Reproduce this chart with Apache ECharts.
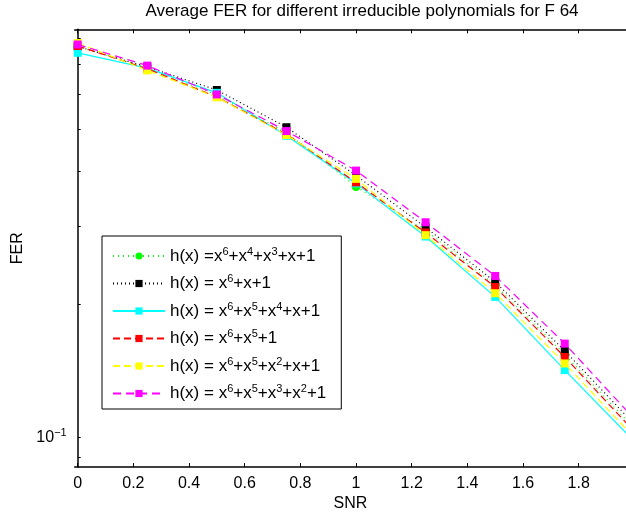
<!DOCTYPE html>
<html>
<head>
<meta charset="utf-8">
<script src="https://cdn.jsdelivr.net/npm/echarts@6/dist/echarts.min.js"></script>
<style>
html,body{margin:0;padding:0;background:#fff;}
#main{width:626px;height:517px;}
</style>
</head>
<body>
<div id="main"></div>
<script>
// SNR points
var snr = [0, 0.25, 0.5, 0.75, 1, 1.25, 1.5, 1.75, 2];
// FER per polynomial
var ferA = [0.768, 0.688, 0.596, 0.490, 0.370, 0.294, 0.221, 0.154, 0.1046];
var ferB = [0.768, 0.690, 0.612, 0.504, 0.392, 0.299, 0.225, 0.157, 0.107];
var ferC = [0.743, 0.686, 0.603, 0.482, 0.376, 0.285, 0.208, 0.142, 0.0978];
var ferD = [0.770, 0.684, 0.590, 0.486, 0.378, 0.291, 0.219, 0.152, 0.103];
var ferE = [0.782, 0.678, 0.589, 0.484, 0.385, 0.287, 0.212, 0.147, 0.0998];
var ferF = [0.776, 0.695, 0.598, 0.494, 0.402, 0.307, 0.232, 0.163, 0.110];
var names = [
    'h(x) =x^6+x^4+x^3+x+1',
    'h(x) = x^6+x+1',
    'h(x) = x^6+x^5+x^4+x+1',
    'h(x) = x^6+x^5+1',
    'h(x) = x^6+x^5+x^2+x+1',
    'h(x) = x^6+x^5+x^3+x^2+1'
];
var xTicks = [0, 0.2, 0.4, 0.6, 0.8, 1, 1.2, 1.4, 1.6, 1.8];
var yTicks = [0.09, 0.1, 0.2, 0.3, 0.4, 0.5, 0.6, 0.7, 0.8];
var yLabels = [0.1];

function pairs(arr) {
    var out = [];
    for (var i = 0; i < arr.length; i++) {
        out.push([snr[i], arr[i]]);
    }
    return out;
}
// x^6 -> rich superscript
function supText(name) {
    return '{n|' + name.replace(/\^(\d)/g, '}{s|$1}{n|') + '}';
}
function makeSeries(i, data, color, dash, symbol, size) {
    return {
        name: names[i],
        type: 'line',
        data: pairs(data),
        symbol: symbol,
        symbolSize: size,
        showAllSymbol: true,
        clip: true,
        itemStyle: {color: color, borderWidth: 0},
        lineStyle: {color: color, width: 1.2, type: dash},
        emphasis: {disabled: true},
        z: 2 + i
    };
}

var font = 'Liberation Sans, Arial, sans-serif';
var myChart = echarts.init(document.getElementById('main'));
var option = {
    animation: false,
    backgroundColor: '#fff',
    title: {
        text: 'Average FER for different irreducible polynomials for F 64',
        left: 357,
        textAlign: 'center',
        top: -2,
        textStyle: {fontFamily: font, fontSize: 17, fontWeight: 'normal', color: '#000'}
    },
    legend: {
        orient: 'vertical',
        left: 102,
        top: 236,
        padding: [10, 15, 7, 10],
        itemGap: 9,
        itemWidth: 52,
        itemHeight: 9,
        borderColor: '#000',
        borderWidth: 1,
        backgroundColor: '#fff',
        data: names,
        formatter: function (name) { return supText(name); },
        textStyle: {
            fontFamily: font,
            color: '#000',
            rich: {
                n: {fontSize: 17, lineHeight: 20, fontFamily: font, color: '#000'},
                s: {fontSize: 11, lineHeight: 11, verticalAlign: 'top', fontFamily: font, color: '#000'}
            }
        }
    },
    grid: {left: 74.7, right: 0, top: 29.3, bottom: 46.3, containLabel: false},
    xAxis: [{
        type: 'value',
        min: -0.0108,
        max: 1.970,
        name: 'SNR',
        nameLocation: 'middle',
        nameGap: 28,
        nameTextStyle: {fontFamily: font, fontSize: 16, color: '#000'},
        axisLine: {lineStyle: {color: '#000', width: 1.5}},
        axisTick: {inside: true, length: 4, customValues: xTicks, lineStyle: {color: '#000'}},
        axisLabel: {
            customValues: xTicks,
            margin: 8,
            fontSize: 16,
            fontFamily: font,
            color: '#000',
            formatter: function (v) { return String(+v.toFixed(1)); }
        },
        splitLine: {show: false}
    }, {
        type: 'value',
        position: 'top',
        min: -0.0108,
        max: 1.970,
        axisLine: {lineStyle: {color: '#000', width: 1.5}},
        axisTick: {inside: true, length: 4, customValues: xTicks, lineStyle: {color: '#000'}},
        axisLabel: {show: false},
        splitLine: {show: false}
    }],
    yAxis: {
        type: 'log',
        logBase: 10,
        min: 0.0856,
        max: 0.84,
        name: 'FER',
        nameLocation: 'middle',
        nameGap: 44,
        nameTextStyle: {fontFamily: font, fontSize: 16, color: '#000'},
        axisLine: {show: true, lineStyle: {color: '#000', width: 1.5}},
        axisTick: {inside: true, length: 3, customValues: yTicks, lineStyle: {color: '#000'}},
        axisLabel: {
            customValues: yLabels,
            margin: 8,
            formatter: function () { return '{b|10}{s|\u22121}'; },
            rich: {
                b: {fontSize: 16, lineHeight: 19, fontFamily: font, color: '#000'},
                s: {fontSize: 11, lineHeight: 11, verticalAlign: 'top', fontFamily: font, color: '#000'}
            }
        },
        splitLine: {show: false}
    },
    series: [
        makeSeries(0, ferA, '#00ff00', [1, 4], 'circle', 9),
        makeSeries(1, ferB, '#000000', [1, 3], 'rect', 8),
        makeSeries(2, ferC, '#00ffff', 'solid', 'rect', 8),
        makeSeries(3, ferD, '#ff0000', [7, 4], 'rect', 8),
        makeSeries(4, ferE, '#ffff00', [7, 4], 'rect', 8),
        makeSeries(5, ferF, '#ff00ff', [8, 5], 'rect', 8)
    ]
};
myChart.setOption(option);
</script>
</body>
</html>
